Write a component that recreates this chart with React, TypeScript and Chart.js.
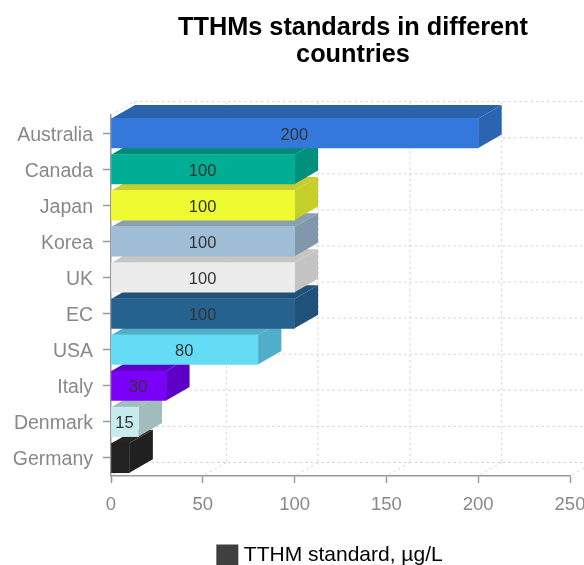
import React, { useEffect, useRef } from "react";
import { Chart, registerables } from "chart.js";

Chart.register(...registerables);

const categories = ["Australia", "Canada", "Japan", "Korea", "UK", "EC", "USA", "Italy", "Denmark", "Germany"];
const standards = [200, 100, 100, 100, 100, 100, 80, 30, 15, 10];
const barLabels = ["200", "100", "100", "100", "100", "100", "80", "30", "15", ""];
const frontColors = ["#3578dc", "#00ad95", "#eefb30", "#9fbed6", "#ececec", "#25628f", "#64dcf6", "#7a00f8", "#c7ebee", "#222222"];
const sideColors = ["#2c64b4", "#00907c", "#c6d02a", "#8197ac", "#c4c4c4", "#1f5179", "#52aec8", "#5c00c8", "#a0bcbc", "#202020"];
const topColors = ["#2b62ac", "#008a77", "#c8cc2c", "#8a9fb0", "#c8c4c0", "#1f5179", "#52aec8", "#5c00c8", "#a0bcbc", "#2a2420"];
const titleLines = ["TTHMs standards in different", "countries"];
const seriesName = "TTHM standard, µg/L";

const DX = 23.5;
const DY = -13.5;

const threeD = {
  id: "threeD",
  afterLayout(chart: any) {
    const t = chart.titleBlock;
    t.left += 68;
    t.right += 68;
    const l = chart.legend;
    l.left += 47;
    l.right += 47;
    l.top = 544.5;
    l.bottom = 565;
  },
  beforeDatasetsDraw(chart: any) {
    const { ctx, chartArea: a, scales } = chart;
    const x = scales.x;
    ctx.save();
    ctx.strokeStyle = "#d4d4d4";
    ctx.lineWidth = 1;
    ctx.setLineDash([2.5, 3]);
    const step = (a.bottom - a.top) / categories.length;
    for (let i = 0; i <= categories.length; i++) {
      const py = a.top + step * i + DY;
      ctx.beginPath();
      ctx.moveTo(a.left + DX, py);
      ctx.lineTo(a.right + DX, py);
      ctx.stroke();
    }
    ctx.beginPath();
    ctx.moveTo(a.left, a.top);
    ctx.lineTo(a.left + DX, a.top + DY);
    ctx.stroke();
    x.ticks.forEach((t: any) => {
      const px = x.getPixelForValue(t.value);
      ctx.beginPath();
      ctx.moveTo(px + DX, a.top + DY);
      ctx.lineTo(px + DX, a.bottom + DY);
      ctx.moveTo(px + DX, a.bottom + DY);
      ctx.lineTo(px, a.bottom);
      ctx.stroke();
    });
    ctx.restore();
  },
  beforeDatasetDraw() {
    return false;
  },
  afterDatasetsDraw(chart: any) {
    const { ctx } = chart;
    const bars = chart.getDatasetMeta(0).data;
    for (let i = bars.length - 1; i >= 0; i--) {
      const b = bars[i];
      const h = b.height / 2;
      const top = b.y - h;
      const bottom = b.y + h;
      ctx.save();
      ctx.fillStyle = topColors[i];
      ctx.beginPath();
      ctx.moveTo(b.base, top);
      ctx.lineTo(b.base + DX, top + DY);
      ctx.lineTo(b.x + DX, top + DY);
      ctx.lineTo(b.x, top);
      ctx.closePath();
      ctx.fill();
      ctx.fillStyle = sideColors[i];
      ctx.beginPath();
      ctx.moveTo(b.x, top);
      ctx.lineTo(b.x + DX, top + DY);
      ctx.lineTo(b.x + DX, bottom + DY);
      ctx.lineTo(b.x, bottom);
      ctx.closePath();
      ctx.fill();
      ctx.restore();
      b.draw(ctx);
      if (barLabels[i]) {
        ctx.save();
        ctx.fillStyle = "#333333";
        ctx.font = "16.5px 'Liberation Sans'";
        ctx.textAlign = "center";
        ctx.textBaseline = "middle";
        ctx.fillText(barLabels[i], (b.base + b.x) / 2 - 0.5, b.y + 2);
        ctx.restore();
      }
    }
  },
};

export default function App() {
  const ref = useRef<HTMLCanvasElement>(null);
  useEffect(() => {
    const chart = new Chart(ref.current as HTMLCanvasElement, {
      type: "bar",
      plugins: [threeD],
      data: {
        labels: categories,
        datasets: [
          {
            label: seriesName,
            data: standards,
            backgroundColor: frontColors,
            barThickness: 29.5,
          },
        ],
      },
      options: {
        indexAxis: "y",
        responsive: false,
        animation: false,
        layout: { padding: { right: 14, left: 0, top: 0, bottom: 0 } },
        plugins: {
          tooltip: { enabled: false },
          title: {
            display: true,
            text: titleLines,
            color: "#000000",
            font: { family: "'Liberation Sans'", size: 25.3, weight: "bold", lineHeight: 1.05 },
            padding: { top: 15, bottom: 47 },
          },
          legend: {
            display: true,
            position: "bottom",
            labels: {
              boxWidth: 12,
              boxHeight: 12,
              padding: 0,
              color: "#333333",
              font: { family: "'Liberation Sans'", size: 21 },
              generateLabels: () => [
                { text: seriesName, fillStyle: "#3f3f3f", strokeStyle: "#3f3f3f", lineWidth: 10, datasetIndex: 0 },
              ],
            },
          },
        },
        scales: {
          x: {
            min: 0,
            max: 250,
            afterFit: (s: any) => {
              s.height = 58;
              s.paddingRight = 0;
              s.paddingLeft = 0;
            },
            ticks: {
              stepSize: 50,
              color: "#888888",
              font: { family: "'Liberation Sans'", size: 18.5 },
              maxRotation: 0,
              padding: 11,
            },
            grid: { drawOnChartArea: false, tickLength: 7, tickColor: "#999999", tickWidth: 1.5 },
            border: { color: "#999999", width: 1.5 },
          },
          y: {
            afterFit: (s: any) => {
              s.width = 111;
            },
            ticks: {
              color: "#888888",
              font: { family: "'Liberation Sans'", size: 19.5 },
              padding: 10,
              labelOffset: 2,
            },
            grid: { drawOnChartArea: false, offset: false, tickLength: 8, tickColor: "#999999", tickWidth: 1.5 },
            border: { color: "#999999", width: 1.5 },
          },
        },
      },
    } as any);
    return () => chart.destroy();
  }, []);
  return (
    <div style={{ position: "absolute", left: 0, top: 0, width: 584, height: 565, background: "#ffffff", overflow: "hidden" }}>
      <canvas ref={ref} width={584} height={565} style={{ display: "block", filter: "blur(0.6px)" }} />
    </div>
  );
}
